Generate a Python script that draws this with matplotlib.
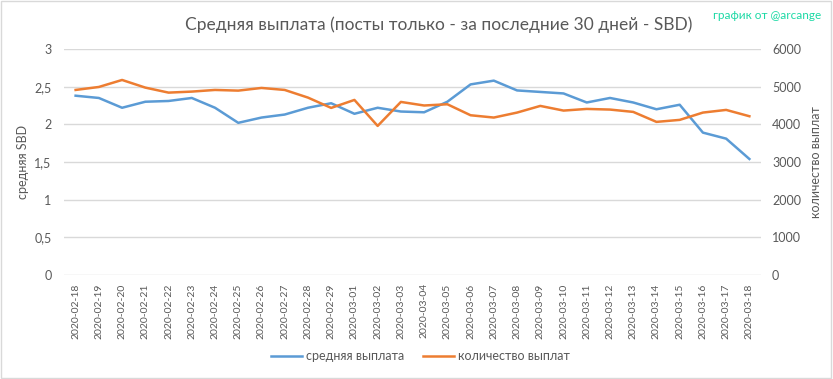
import matplotlib
matplotlib.use("Agg")
import matplotlib.pyplot as plt
from matplotlib.patches import Rectangle
from matplotlib.ticker import FuncFormatter

plt.rcParams['font.family'] = ['Lato', 'DejaVu Sans']

# данные
dates = ["2020-02-18", "2020-02-19", "2020-02-20", "2020-02-21", "2020-02-22",
         "2020-02-23", "2020-02-24", "2020-02-25", "2020-02-26", "2020-02-27",
         "2020-02-28", "2020-02-29", "2020-03-01", "2020-03-02", "2020-03-03",
         "2020-03-04", "2020-03-05", "2020-03-06", "2020-03-07", "2020-03-08",
         "2020-03-09", "2020-03-10", "2020-03-11", "2020-03-12", "2020-03-13",
         "2020-03-14", "2020-03-15", "2020-03-16", "2020-03-17", "2020-03-18"]
avg_payout = [2.38, 2.35, 2.22, 2.30, 2.31, 2.35, 2.22, 2.02, 2.09, 2.13,
              2.22, 2.28, 2.14, 2.22, 2.17, 2.16, 2.30, 2.53, 2.58, 2.45,
              2.43, 2.41, 2.29, 2.35, 2.29, 2.20, 2.26, 1.89, 1.81, 1.54]
payout_count = [4913, 4992, 5178, 4975, 4842, 4869, 4913, 4895, 4966, 4913,
                4710, 4436, 4648, 3958, 4595, 4500, 4533, 4241, 4180, 4312,
                4489, 4365, 4409, 4392, 4330, 4065, 4118, 4312, 4383, 4215]

gray = '#595959'
blue = '#5B9BD5'
orange = '#ED7D31'

fig = plt.figure(figsize=(8.33, 3.79), dpi=100)
fig.patches.append(Rectangle((0.001, 0.002), 0.997, 0.995, transform=fig.transFigure,
                             fill=False, edgecolor='#D9D9D9', linewidth=1))

ax = fig.add_axes([64 / 833, 1 - 275 / 379, (761 - 64) / 833, (275 - 49) / 379])
ax2 = ax.twinx()

x = list(range(len(dates)))
l1, = ax.plot(x, avg_payout, color=blue, linewidth=1.8, label='средняя выплата')
l2, = ax2.plot(x, payout_count, color=orange, linewidth=1.8, label='количество выплат')

ax.set_xlim(-0.5, len(dates) - 0.5)
ax.set_ylim(0, 3)
ax2.set_ylim(0, 6000)
ax.set_yticks([0, 0.5, 1, 1.5, 2, 2.5, 3])
ax2.set_yticks(range(0, 6001, 1000))
ax.yaxis.set_major_formatter(FuncFormatter(lambda v, p: ('%g' % v).replace('.', ',')))

ax.set_xticks(x)
ax.set_xticklabels(dates, rotation=90, fontsize=7.5, color=gray)
ax.grid(axis='y', color='#D9D9D9', linewidth=1)
ax.set_axisbelow(True)

for a in (ax, ax2):
    for s in a.spines.values():
        s.set_visible(False)
    a.tick_params(length=0, labelsize=9, labelcolor=gray)
ax.tick_params(axis='y', pad=9)
ax2.tick_params(axis='y', pad=8)
ax.tick_params(axis='x', pad=6, labelsize=7.5)

ax.set_ylabel('средняя SBD', fontsize=9, color=gray)
ax2.set_ylabel('количество выплат', fontsize=9, color=gray)
ax.yaxis.set_label_coords(-0.050, 0.5)
ax2.yaxis.set_label_coords(1.070, 0.5)

fig.text(0.527, 0.934, 'Средняя выплата (посты только - за последние 30 дней - SBD)',
         ha='center', va='center', fontsize=12.5, color=gray)
fig.text(0.986, 0.96, 'график от @arcange', ha='right', va='center',
         fontsize=8.5, color='#1CD9A5')

fig.legend(handles=[l1, l2], loc='center', bbox_to_anchor=(0.505, 0.06), ncol=2,
           frameon=False, fontsize=9, labelcolor=gray, handlelength=2.5,
           handletextpad=0.3, columnspacing=1.5)

fig.savefig('out.png', dpi=100)
